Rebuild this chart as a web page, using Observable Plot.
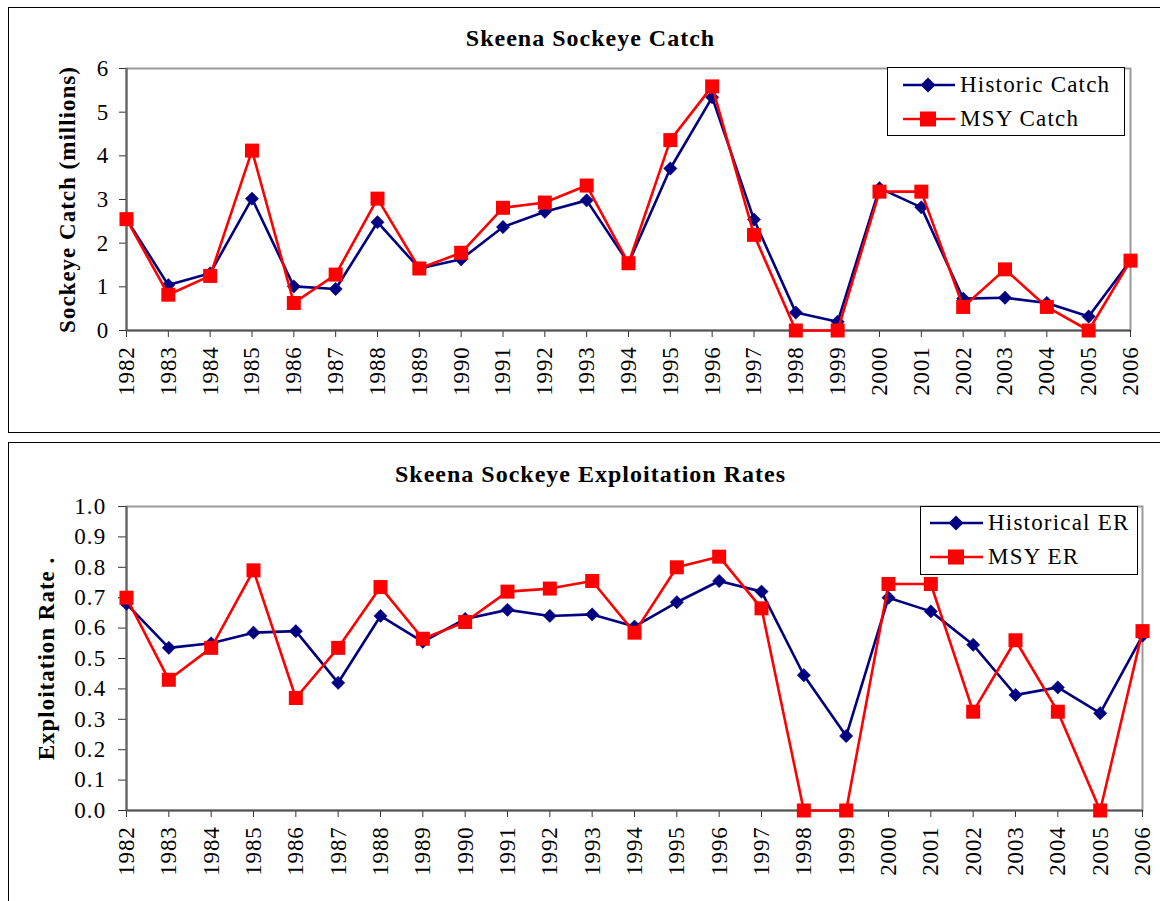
<!DOCTYPE html>
<html>
<head>
<meta charset="utf-8">
<script src="https://cdn.jsdelivr.net/npm/d3@7"></script>
<script src="https://cdn.jsdelivr.net/npm/@observablehq/plot@0.6"></script>
<style>
  html, body { margin: 0; padding: 0; background: #fff; }
  #root { position: relative; width: 1160px; height: 901px; overflow: hidden; background: #fff;
          font-family: "Liberation Serif", "Times New Roman", Times, serif; }
  .box { position: absolute; left: 8px; width: 1170px; border: 1.5px solid #000; border-right: none; box-sizing: border-box; }
  .plotwrap { position: absolute; left: 0; }
  .plotwrap svg, .plotwrap svg text { font-family: "Liberation Serif", "Times New Roman", Times, serif !important; }
  .legend { position: absolute; background: #fff; border: 1.5px solid #000; box-sizing: border-box; }
  .legend .row { position: absolute; left: 0; height: 34px; width: 100%; }
  .legend .row svg { position: absolute; top: 0; }
  .legend .row span { position: absolute; top: 0; line-height: 34px; font-size: 23px; letter-spacing: 1.2px; color: #000; white-space: nowrap;
          font-family: "Liberation Serif", "Times New Roman", Times, serif; }
</style>
</head>
<body>
<div id="root">
  <div class="box" style="top:7px;height:426px;"></div>
  <div class="box" style="top:442px;height:480px;"></div>
  <div class="plotwrap" id="p1" style="top:0px;"></div>
  <div class="plotwrap" id="p2" style="top:443px;"></div>
  <div id="leg1" class="legend" style="left:887px;top:67px;width:238px;height:69px;"></div>
  <div id="leg2" class="legend" style="left:920px;top:506px;width:218px;height:69px;"></div>
</div>
<script>
// ---- Data ----
const years = [1982,1983,1984,1985,1986,1987,1988,1989,1990,1991,1992,1993,1994,1995,1996,1997,1998,1999,2000,2001,2002,2003,2004,2005,2006];
const historicCatch = [2.55,1.04,1.31,3.02,1.01,0.95,2.48,1.42,1.63,2.37,2.72,2.98,1.54,3.71,5.34,2.54,0.41,0.20,3.26,2.82,0.73,0.75,0.63,0.32,1.60];
const msyCatch      = [2.55,0.82,1.25,4.12,0.63,1.28,3.02,1.42,1.78,2.81,2.93,3.32,1.54,4.36,5.59,2.19,0.00,0.00,3.18,3.18,0.54,1.40,0.54,0.00,1.60];
const historicER = [0.68,0.535,0.55,0.585,0.59,0.42,0.64,0.555,0.63,0.66,0.64,0.645,0.605,0.685,0.755,0.72,0.445,0.245,0.70,0.655,0.545,0.38,0.405,0.32,0.575];
const msyER      = [0.70,0.43,0.535,0.79,0.37,0.535,0.735,0.565,0.62,0.72,0.73,0.755,0.585,0.80,0.835,0.665,0.00,0.00,0.745,0.745,0.325,0.56,0.325,0.00,0.59];
const catchTicks = [0,1,2,3,4,5,6];
const erTicks = [0,0.1,0.2,0.3,0.4,0.5,0.6,0.7,0.8,0.9,1.0];
const titles = ["Skeena Sockeye Catch", "Skeena Sockeye Exploitation Rates"];
const yLabels = ["Sockeye Catch (millions)", "Exploitation Rate ."];
const seriesNames = [["Historic Catch", "MSY Catch"], ["Historical ER", "MSY ER"]];

const NAVY = "#000080", RED = "#ff0000";
const FONT = '"Liberation Serif", "Times New Roman", Times, serif';

function rows(vals) { return years.map((y, i) => ({year: y, value: vals[i]})); }

function panel({height, marginTop, marginBottom, marginRight, yDomain, yTicks, yFmt, hist, msy, title, ylabel, titleDx, titleDy, ylabelDx, tickSizeY, tickPadY}) {
  return Plot.plot({
    width: 1160, height, marginTop, marginBottom, marginLeft: 126, marginRight,
    x: {domain: [1982, 2006], label: null},
    y: {domain: yDomain, label: null},
    style: {fontFamily: FONT, background: "transparent", overflow: "visible", letterSpacing: "0.8px", color: "#000"},
    marks: [
      Plot.frame({stroke: "#9a9a9a", strokeWidth: 2}),
      Plot.axisY({ticks: yTicks, tickFormat: yFmt, tickSize: tickSizeY, tickPadding: tickPadY, fontSize: 23, stroke: "#333", label: null}),
      Plot.axisX({ticks: years, tickFormat: d => String(d), tickRotate: -90, tickSize: 7, tickPadding: 9, fontSize: 23, stroke: "#333", label: null}),
      Plot.ruleX([1982], {stroke: "#666", strokeWidth: 2.2}),
      Plot.ruleY([yDomain[0]], {stroke: "#555", strokeWidth: 2.2}),
      Plot.line(rows(hist), {x: "year", y: "value", stroke: NAVY, strokeWidth: 2.6}),
      Plot.dot(rows(hist), {x: "year", y: "value", symbol: "diamond2", r: 6, fill: NAVY, stroke: NAVY, strokeWidth: 0.5}),
      Plot.line(rows(msy), {x: "year", y: "value", stroke: RED, strokeWidth: 2.6}),
      Plot.dot(rows(msy), {x: "year", y: "value", symbol: "square", r: 7.9, fill: RED}),
      Plot.text([title], {frameAnchor: "top", textAnchor: "middle", lineAnchor: "middle", dx: titleDx, dy: titleDy, fontWeight: "bold", fontSize: 24, fill: "#000"}),
      Plot.text([ylabel], {frameAnchor: "left", textAnchor: "middle", lineAnchor: "middle", rotate: -90, dx: ylabelDx, fontWeight: "bold", fontSize: 23, fill: "#000"})
    ]
  });
}

const p1 = panel({
  height: 432, marginTop: 68, marginBottom: 102, marginRight: 30,
  yDomain: [0, 6], yTicks: catchTicks, yFmt: d => String(d),
  hist: historicCatch, msy: msyCatch, title: titles[0], ylabel: yLabels[0],
  titleDx: -38, titleDy: -30, ylabelDx: -59, tickSizeY: 7, tickPadY: 10
});
const p2 = panel({
  height: 458, marginTop: 63, marginBottom: 91, marginRight: 18,
  yDomain: [0, 1], yTicks: erTicks, yFmt: d3.format(".1f"),
  hist: historicER, msy: msyER, title: titles[1], ylabel: yLabels[1],
  titleDx: -44, titleDy: -32, ylabelDx: -80, tickSizeY: 8, tickPadY: 12
});
document.getElementById("p1").appendChild(p1);
document.getElementById("p2").appendChild(p2);

// wider spacing for titles and y labels
for (const svg of [p1, p2]) {
  d3.select(svg).selectAll("text").filter(function() { return this.closest("g[aria-label='text']"); })
    .attr("letter-spacing", "1.0px");
  d3.select(svg).selectAll("g[aria-label='y-axis tick label'] text").attr("letter-spacing", "1.2px");
}

// ---- Legends ----
function legend(el, names, lineX0, lineX1, markX, textX, rowY) {
  const sym = [
    (x, y) => `<path d="M${x},${y-7.5}L${x+7.5},${y}L${x},${y+7.5}L${x-7.5},${y}Z" fill="${NAVY}"/>`,
    (x, y) => `<rect x="${x-8}" y="${y-7.5}" width="16" height="15" fill="${RED}"/>`
  ];
  const cols = [NAVY, RED];
  names.forEach((name, i) => {
    const row = document.createElement("div");
    row.className = "row";
    row.style.top = (rowY[i] - 17) + "px";
    row.innerHTML = `<svg width="${lineX1 + 10}" height="34" style="left:0">` +
      `<line x1="${lineX0}" x2="${lineX1}" y1="17" y2="17" stroke="${cols[i]}" stroke-width="2.6"/>` +
      sym[i](markX, 17) + `</svg><span style="left:${textX}px">${name}</span>`;
    el.appendChild(row);
  });
}
legend(document.getElementById("leg1"), seriesNames[0], 15, 67, 40, 72, [17, 51]);
legend(document.getElementById("leg2"), seriesNames[1], 9, 62, 35, 67, [16, 50]);
</script>
</body>
</html>
